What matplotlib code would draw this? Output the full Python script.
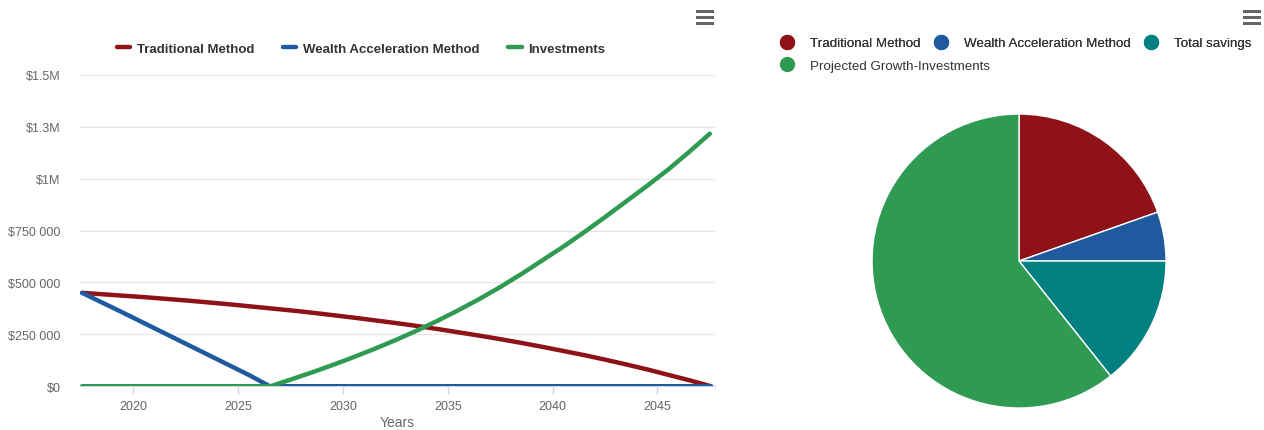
import matplotlib.pyplot as plt
from matplotlib.lines import Line2D
from matplotlib.patches import Rectangle
from matplotlib.ticker import FuncFormatter

plt.rcParams['font.family'] = ['Liberation Sans', 'DejaVu Sans']

# Colours
cor_trad = '#8f1219'
cor_wealth = '#1f5a9e'
cor_invest = '#2e9a52'
cor_teal = '#008080'
cor_grid = '#e6e6e6'
cor_label = '#666666'
cor_texto = '#333333'

# --- Line chart data (values in $ thousands) ---
anos_trad = [2017.55, 2018.55, 2019.55, 2020.55, 2021.55, 2022.55, 2023.55, 2024.55, 2025.55, 2026.55,
             2027.55, 2028.55, 2029.55, 2030.55, 2031.55, 2032.55, 2033.55, 2034.55, 2035.55, 2036.55,
             2037.55, 2038.55, 2039.55, 2040.55, 2041.55, 2042.55, 2043.55, 2044.55, 2045.55, 2046.55,
             2047.55]
valores_trad = [450, 443, 436, 429, 421, 413, 404, 395, 385, 375,
                365, 354, 342, 330, 317, 304, 290, 275, 259, 243,
                226, 208, 189, 169, 149, 127, 104, 80, 54, 28,
                0]

anos_wealth = [2017.55, 2018.55, 2019.55, 2020.55, 2021.55, 2022.55, 2023.55, 2024.55, 2025.55, 2026.5,
               2030, 2035, 2040, 2045, 2047.55]
valores_wealth = [450, 401, 352, 302, 252, 202, 152, 102, 52, 0,
                  0, 0, 0, 0, 0]

anos_invest = [2017.55, 2020, 2025, 2026.55, 2027.5, 2028.5, 2029.5, 2030.5, 2031.5, 2032.5,
               2033.5, 2034.5, 2035.5, 2036.5, 2037.5, 2038.5, 2039.5, 2040.5, 2041.5, 2042.5,
               2043.5, 2044.5, 2045.5, 2046.5, 2047.5]
valores_invest = [0, 0, 0, 0, 32, 66, 102, 140, 180, 222,
                  267, 315, 366, 420, 478, 540, 606, 672, 742, 815,
                  890, 965, 1043, 1128, 1217]

y_ticks = [0, 250, 500, 750, 1000, 1250, 1500]
y_tick_labels = ['$0', '$250 000', '$500 000', '$750 000', '$1M', '$1.3M', '$1.5M']
x_ticks = [2020, 2025, 2030, 2035, 2040, 2045]

# --- Pie data (shares in %) ---
pie_labels = ['Traditional Method', 'Wealth Acceleration Method', 'Total savings', 'Projected Growth-Investments']
pie_valores = [19.6, 5.4, 14.3, 60.7]
pie_cores = [cor_trad, cor_wealth, cor_teal, cor_invest]

fig = plt.figure(figsize=(12.64, 4.31), dpi=100)
fig.patch.set_facecolor('white')

# --- Line chart ---
ax = fig.add_axes([0.0633, 0.1016, 0.5024, 0.7221])
ax.plot(anos_trad, valores_trad, color=cor_trad, linewidth=3.2, label='Traditional Method',
        zorder=3, solid_capstyle='round')
ax.plot(anos_wealth, valores_wealth, color=cor_wealth, linewidth=3.2, label='Wealth Acceleration Method',
        zorder=4, solid_capstyle='round')
ax.plot(anos_invest, valores_invest, color=cor_invest, linewidth=3.2, label='Investments',
        zorder=5, solid_capstyle='round')

ax.set_xlim(2017.45, 2047.75)
ax.set_ylim(0, 1500)
ax.set_yticks(y_ticks)
ax.yaxis.set_major_formatter(FuncFormatter(lambda v, p: y_tick_labels[y_ticks.index(v)] if v in y_ticks else ''))
ax.set_xticks(x_ticks)
ax.tick_params(axis='y', length=0, labelsize=9, labelcolor=cor_label, pad=14)
ax.tick_params(axis='x', length=6, width=1, color='#ccd6eb', labelsize=9, labelcolor=cor_label, pad=4)
ax.grid(axis='y', color=cor_grid, linewidth=1)
ax.set_axisbelow(True)
for lado in ['top', 'right', 'left']:
    ax.spines[lado].set_visible(False)
ax.spines['bottom'].set_color('#ccd6eb')
ax.set_xlabel('Years', fontsize=10, color=cor_label, labelpad=2)

ax.legend(loc='center', bbox_to_anchor=(0.2856, 0.884), bbox_transform=fig.transFigure,
          ncol=3, frameon=False, prop={'weight': 'bold', 'size': 9.5},
          labelcolor=cor_texto, handlelength=1.0, handletextpad=0.5, columnspacing=2.2)

# --- Pie chart ---
ax_pie = fig.add_axes([0.6899, 0.0510, 0.2326, 0.6821])
wedges, _ = ax_pie.pie(pie_valores, colors=pie_cores, startangle=90, counterclock=False,
                       wedgeprops=dict(edgecolor='white', linewidth=1))
ax_pie.set_xlim(-1.0, 1.0)
ax_pie.set_ylim(-1.0, 1.0)
ax_pie.set_aspect('equal')

def marcador(cor):
    return Line2D([0], [0], marker='o', linestyle='none', markersize=10,
                  markerfacecolor=cor, markeredgecolor=cor)

leg1 = fig.legend([marcador(c) for c in pie_cores[:3]], pie_labels[:3], loc='upper left',
                  bbox_to_anchor=(0.608, 0.940), ncol=3, frameon=False, fontsize=9.6,
                  labelcolor=cor_texto, handlelength=1.0, handletextpad=1.2, columnspacing=1.05)
leg2 = fig.legend([marcador(pie_cores[3])], pie_labels[3:], loc='upper left',
                  bbox_to_anchor=(0.608, 0.887), frameon=False, fontsize=9.6,
                  labelcolor=cor_texto, handlelength=1.0, handletextpad=1.2)
fig.add_artist(leg1)

# --- Menu icons ---
for cx in [705, 1252]:
    for cy in [12, 18, 24]:
        fig.add_artist(Rectangle(((cx - 9) / 1264, 1 - (cy + 1.5) / 431), 18 / 1264, 3 / 431,
                                 transform=fig.transFigure, facecolor='#666666', edgecolor='none'))

plt.savefig('out.png', dpi=100, facecolor='white')
